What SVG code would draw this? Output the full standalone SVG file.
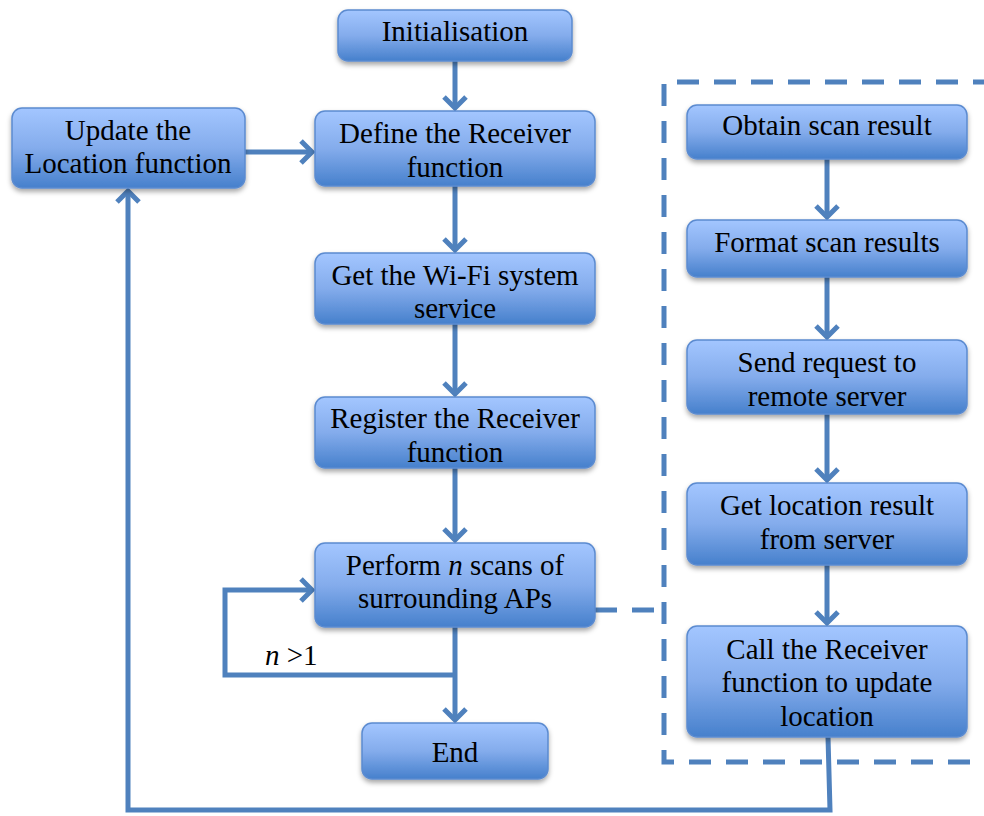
<svg xmlns="http://www.w3.org/2000/svg" width="984" height="816" viewBox="0 0 984 816">
<defs>
<linearGradient id="g" x1="0" y1="0" x2="0" y2="1">
<stop offset="0" stop-color="#a3c6ff"/>
<stop offset="0.5" stop-color="#84acec"/>
<stop offset="1" stop-color="#4680cc"/>
</linearGradient>
<filter id="sh" x="-10%" y="-10%" width="120%" height="140%">
<feDropShadow dx="0" dy="3" stdDeviation="2.5" flood-color="#000" flood-opacity="0.35"/>
</filter>
</defs>
<g id="connectors" fill="none" stroke="#4f81bd" stroke-width="5">
<line x1="455" y1="61" x2="455" y2="108"/>
<line x1="455" y1="186" x2="455" y2="250"/>
<line x1="455" y1="324" x2="455" y2="394"/>
<line x1="455" y1="468" x2="455" y2="540"/>
<line x1="455" y1="627" x2="455" y2="720"/>
<polyline points="455,675 225,675 225,590 312,590"/>
<line x1="245" y1="152" x2="312" y2="152"/>
<polyline points="828,737 830,810 128,810 128,191"/>
<line x1="827" y1="159" x2="827" y2="217"/>
<line x1="827" y1="277" x2="827" y2="337"/>
<line x1="827" y1="414" x2="827" y2="480"/>
<line x1="827" y1="565" x2="827" y2="623"/>
<line x1="595" y1="610" x2="664" y2="610" stroke-dasharray="22 15"/>
<polyline points="995,82 664,82 664,762 995,762" stroke-dasharray="22 15"/>
<polyline points="444,97 455,108 466,97"/>
<polyline points="444,239 455,250 466,239"/>
<polyline points="444,383 455,394 466,383"/>
<polyline points="444,529 455,540 466,529"/>
<polyline points="444,709 455,720 466,709"/>
<polyline points="301,579 312,590 301,601"/>
<polyline points="301,141 312,152 301,163"/>
<polyline points="117,202 128,191 139,202"/>
<polyline points="816,206 827,217 838,206"/>
<polyline points="816,326 827,337 838,326"/>
<polyline points="816,469 827,480 838,469"/>
<polyline points="816,612 827,623 838,612"/>
</g>
<g id="nodes">
<g fill="url(#g)" stroke="#5b8bd0" stroke-width="1.5" filter="url(#sh)">
<rect x="338" y="10" width="234" height="51" rx="10"/>
<rect x="315" y="111" width="280" height="75" rx="10"/>
<rect x="315" y="253" width="280" height="71" rx="10"/>
<rect x="315" y="397" width="280" height="71" rx="10"/>
<rect x="315" y="543" width="280" height="84" rx="10"/>
<rect x="362" y="723" width="186" height="56" rx="10"/>
<rect x="12" y="108" width="233" height="80" rx="10"/>
<rect x="687" y="105" width="280" height="54" rx="10"/>
<rect x="687" y="220" width="280" height="57" rx="10"/>
<rect x="687" y="340" width="280" height="74" rx="10"/>
<rect x="687" y="483" width="280" height="82" rx="10"/>
<rect x="687" y="626" width="280" height="111" rx="10"/>
</g>
</g>
<g font-family="Liberation Serif" font-size="29" fill="#000" text-anchor="middle">
<g id="initialisation"><text x="455" y="41">Initialisation</text></g>
<g id="define"><text x="455" y="143">Define the Receiver</text><text x="455" y="177">function</text></g>
<g id="wifi"><text x="455" y="285">Get the Wi-Fi system</text><text x="455" y="318">service</text></g>
<g id="register"><text x="455" y="428">Register the Receiver</text><text x="455" y="462">function</text></g>
<g id="perform"><text x="455" y="575">Perform <tspan font-style="italic">n</tspan> scans of</text><text x="455" y="608">surrounding APs</text></g>
<g id="end"><text x="455" y="762">End</text></g>
<g id="update"><text x="128" y="140">Update the</text><text x="128" y="173">Location function</text></g>
<g id="obtain"><text x="827" y="135">Obtain scan result</text></g>
<g id="format"><text x="827" y="252">Format scan results</text></g>
<g id="send"><text x="827" y="372">Send request to</text><text x="827" y="406">remote server</text></g>
<g id="getloc"><text x="827" y="515">Get location result</text><text x="827" y="549">from server</text></g>
<g id="call"><text x="827" y="659">Call the Receiver</text><text x="827" y="692">function to update</text><text x="827" y="726">location</text></g>
<g id="label"><text x="265" y="665" text-anchor="start"><tspan font-style="italic">n</tspan> &gt;1</text></g>
</g>
</svg>
